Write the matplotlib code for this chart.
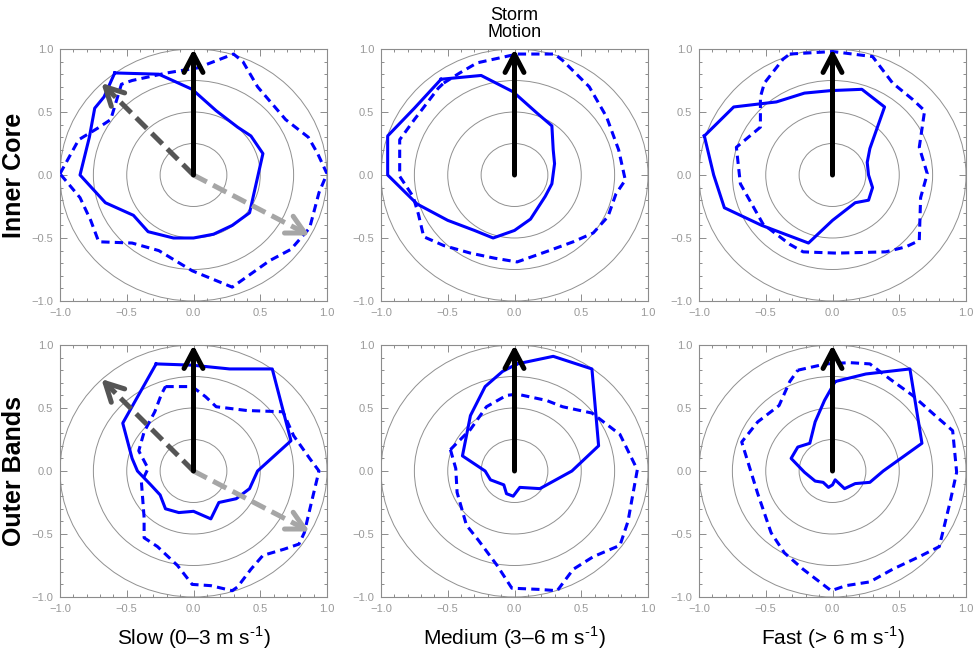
import matplotlib

matplotlib.use("Agg")
import matplotlib.pyplot as plt

plt.rcParams["font.family"] = ["Liberation Sans", "DejaVu Sans"]
plt.rcParams["mathtext.fontset"] = "custom"
plt.rcParams["mathtext.rm"] = "Liberation Sans"

# polygon outlines, normalised to storm-motion frame (x east, y along motion)
# inner core
SLOW_CORE_SOLID_X = [-0.59, -0.26, -0.01, 0.17, 0.33, 0.43, 0.52, 0.42, 0.29, 0.15, 0.0,
                     -0.15, -0.34, -0.45, -0.66, -0.85, -0.78, -0.74, -0.67, -0.59]
SLOW_CORE_SOLID_Y = [0.81, 0.80, 0.68, 0.51, 0.38, 0.31, 0.17, -0.30, -0.40, -0.47, -0.50,
                     -0.50, -0.45, -0.32, -0.22, 0.0, 0.30, 0.53, 0.62, 0.81]
SLOW_CORE_DASH_X = [-1.0, -0.86, -0.72, -0.62, -0.54, -0.46, -0.20, 0.03, 0.30, 0.37, 0.48,
                    0.69, 0.86, 0.93, 1.0, 0.94, 0.87, 0.73, 0.57, 0.29, -0.01, -0.26,
                    -0.46, -0.71, -0.77, -0.85, -1.0]
SLOW_CORE_DASH_Y = [0.01, 0.28, 0.37, 0.44, 0.72, 0.75, 0.81, 0.85, 0.96, 0.90, 0.70,
                    0.44, 0.30, 0.17, 0.01, -0.14, -0.42, -0.59, -0.68, -0.89, -0.76, -0.60,
                    -0.54, -0.53, -0.36, -0.18, 0.01]

MED_CORE_SOLID_X = [-0.55, -0.25, -0.01, 0.17, 0.28, 0.29, 0.30, 0.28, 0.23, 0.12, 0.0,
                    -0.16, -0.30, -0.50, -0.73, -0.95, -0.95, -0.75, -0.55]
MED_CORE_SOLID_Y = [0.76, 0.79, 0.66, 0.49, 0.39, 0.20, 0.09, -0.07, -0.17, -0.35, -0.44,
                    -0.50, -0.44, -0.36, -0.23, 0.0, 0.31, 0.53, 0.76]
MED_CORE_DASH_X = [-0.53, -0.41, -0.28, 0.02, 0.30, 0.36, 0.56, 0.69, 0.78, 0.83, 0.76,
                   0.70, 0.59, 0.44, 0.26, 0.02, -0.15, -0.33, -0.53, -0.68, -0.72, -0.76,
                   -0.86, -0.86, -0.75, -0.57, -0.53]
MED_CORE_DASH_Y = [0.73, 0.81, 0.89, 0.96, 0.96, 0.91, 0.70, 0.46, 0.20, -0.04, -0.15,
                   -0.33, -0.46, -0.53, -0.60, -0.69, -0.66, -0.62, -0.56, -0.49, -0.31, -0.17,
                   -0.01, 0.28, 0.44, 0.69, 0.73]

FAST_CORE_SOLID_X = [-0.96, -0.74, -0.42, -0.21, -0.01, 0.22, 0.39, 0.28, 0.26, 0.27, 0.30,
                     0.27, 0.17, 0.0, -0.18, -0.53, -0.81, -0.89, -0.96]
FAST_CORE_SOLID_Y = [0.31, 0.54, 0.58, 0.65, 0.67, 0.68, 0.54, 0.21, 0.10, 0.0, -0.10,
                     -0.20, -0.22, -0.36, -0.54, -0.40, -0.26, 0.0, 0.31]
FAST_CORE_DASH_X = [-0.32, 0.0, 0.30, 0.45, 0.60, 0.69, 0.65, 0.71, 0.66, 0.65, 0.55,
                    0.40, 0.03, -0.22, -0.32, -0.52, -0.69, -0.72, -0.54, -0.54, -0.51,
                    -0.37, -0.32]
FAST_CORE_DASH_Y = [0.96, 0.98, 0.94, 0.73, 0.60, 0.51, 0.22, 0.01, -0.18, -0.52, -0.57,
                    -0.61, -0.62, -0.61, -0.55, -0.39, -0.07, 0.22, 0.38, 0.62, 0.73,
                    0.92, 0.96]

# outer bands
SLOW_BAND_SOLID_X = [-0.28, -0.01, 0.27, 0.59, 0.73, 0.48, 0.42, 0.32, 0.19, 0.13, 0.0,
                     -0.11, -0.21, -0.25, -0.32, -0.42, -0.46, -0.53, -0.28]
SLOW_BAND_SOLID_Y = [0.85, 0.84, 0.81, 0.81, 0.24, 0.0, -0.14, -0.22, -0.25, -0.38, -0.32,
                     -0.33, -0.30, -0.19, -0.11, 0.0, 0.10, 0.38, 0.85]
SLOW_BAND_DASH_X = [-0.21, -0.01, 0.09, 0.17, 0.40, 0.67, 0.75, 0.87, 0.94, 0.89, 0.83,
                    0.79, 0.68, 0.52, 0.43, 0.33, 0.29, 0.13, -0.01, -0.12, -0.27, -0.37,
                    -0.37, -0.39, -0.34, -0.41, -0.37, -0.29, -0.24, -0.21]
SLOW_BAND_DASH_Y = [0.67, 0.67, 0.59, 0.51, 0.48, 0.47, 0.28, 0.10, 0.0, -0.22, -0.49,
                    -0.58, -0.62, -0.67, -0.78, -0.92, -0.95, -0.91, -0.90, -0.75, -0.60, -0.53,
                    -0.37, -0.09, 0.02, 0.16, 0.31, 0.47, 0.61, 0.67]

MED_BAND_SOLID_X = [0.02, 0.29, 0.58, 0.63, 0.43, 0.19, 0.04, -0.01, -0.06, -0.08, -0.18,
                    -0.22, -0.39, -0.33, -0.22, -0.09, 0.02]
MED_BAND_SOLID_Y = [0.85, 0.91, 0.81, 0.20, 0.0, -0.14, -0.13, -0.20, -0.18, -0.11, -0.07,
                    0.0, 0.12, 0.44, 0.67, 0.79, 0.85]
MED_BAND_DASH_X = [-0.48, -0.33, -0.21, -0.06, 0.02, 0.24, 0.36, 0.58, 0.79, 0.92, 0.85,
                   0.79, 0.59, 0.44, 0.32, 0.19, -0.02, -0.13, -0.27, -0.36, -0.43, -0.44,
                   -0.48]
MED_BAND_DASH_Y = [0.17, 0.33, 0.51, 0.60, 0.61, 0.56, 0.51, 0.46, 0.29, 0.01, -0.40,
                   -0.59, -0.68, -0.78, -0.95, -0.94, -0.93, -0.75, -0.55, -0.43, -0.17, 0.02,
                   0.17]

FAST_BAND_SOLID_X = [0.02, 0.25, 0.58, 0.67, 0.38, 0.28, 0.17, 0.09, 0.02, 0.0, -0.03,
                     -0.07, -0.13, -0.21, -0.31, -0.26, -0.17, -0.13, -0.06, 0.02]
FAST_BAND_SOLID_Y = [0.71, 0.77, 0.81, 0.22, 0.0, -0.09, -0.10, -0.14, -0.07, -0.11, -0.13,
                     -0.09, -0.08, -0.01, 0.10, 0.19, 0.22, 0.39, 0.56, 0.71]
FAST_BAND_DASH_X = [-0.26, -0.05, 0.13, 0.28, 0.43, 0.60, 0.78, 0.90, 0.93, 0.88, 0.80,
                    0.65, 0.45, 0.28, 0.10, -0.01, -0.22, -0.36, -0.46, -0.56, -0.68,
                    -0.56, -0.40, -0.32, -0.26]
FAST_BAND_DASH_Y = [0.80, 0.85, 0.86, 0.85, 0.73, 0.60, 0.43, 0.32, -0.01, -0.25, -0.60,
                    -0.68, -0.78, -0.88, -0.91, -0.95, -0.78, -0.65, -0.49, -0.18, 0.23,
                    0.39, 0.52, 0.71, 0.80]

# arrow tips (storm motion is always straight up)
MOTION_TIP = (0.0, 1.0)
SHEAR_LEFT_TIP = (-0.69, 0.73)
SHEAR_RIGHT_TIP = (0.87, -0.48)

RING_RADII = [0.25, 0.5, 0.75, 1.0]
ROW_LABELS = ["Inner Core", "Outer Bands"]
COL_LABELS = [r"Slow (0–3 m s$^{\mathregular{\text{-}1}}$)",
              r"Medium (3–6 m s$^{\mathregular{\text{-}1}}$)",
              r"Fast (> 6 m s$^{\mathregular{\text{-}1}}$)"]

PANELS = [
    [(SLOW_CORE_SOLID_X, SLOW_CORE_SOLID_Y, SLOW_CORE_DASH_X, SLOW_CORE_DASH_Y),
     (MED_CORE_SOLID_X, MED_CORE_SOLID_Y, MED_CORE_DASH_X, MED_CORE_DASH_Y),
     (FAST_CORE_SOLID_X, FAST_CORE_SOLID_Y, FAST_CORE_DASH_X, FAST_CORE_DASH_Y)],
    [(SLOW_BAND_SOLID_X, SLOW_BAND_SOLID_Y, SLOW_BAND_DASH_X, SLOW_BAND_DASH_Y),
     (MED_BAND_SOLID_X, MED_BAND_SOLID_Y, MED_BAND_DASH_X, MED_BAND_DASH_Y),
     (FAST_BAND_SOLID_X, FAST_BAND_SOLID_Y, FAST_BAND_DASH_X, FAST_BAND_DASH_Y)],
]

FIG_W, FIG_H = 974, 655
COL_LEFT_PX = [60, 381, 699]
ROW_TOP_PX = [49, 345]
PANEL_W_PX, PANEL_H_PX = 267, 252
AXIS_GRAY = "#8c8c8c"


def _arrow(ax, tip, color, dashed):
    tx, ty = tip
    if dashed:
        ax.plot([0, tx * 0.93], [0, ty * 0.93], color=color, lw=3.6,
                dashes=(3.0, 1.4), solid_capstyle="butt", zorder=5)
        start = (tx * 0.9, ty * 0.9)
    else:
        start = (0.0, 0.0)
    ax.annotate("", xy=tip, xytext=start, zorder=6,
                arrowprops=dict(arrowstyle="->,head_length=0.65,head_width=0.34",
                                color=color, lw=3.6, mutation_scale=20,
                                shrinkA=0, shrinkB=0))


def _panel(ax, curves, with_shear):
    sx, sy, dx, dy = curves
    for r in RING_RADII:
        ax.add_patch(plt.Circle((0, 0), r, fill=False, color="#909090", lw=0.7))
    ax.plot(sx, sy, color="#0000ff", lw=2.2, zorder=3)
    ax.plot(dx, dy, color="#0000ff", lw=2.2, dashes=(2.7, 1.7), zorder=3)
    if with_shear:
        _arrow(ax, SHEAR_LEFT_TIP, "#555555", True)
        _arrow(ax, SHEAR_RIGHT_TIP, "#a6a6a6", True)
    _arrow(ax, MOTION_TIP, "black", False)

    ax.set_xlim(-1, 1)
    ax.set_ylim(-1, 1)
    ticks = [-1.0, -0.5, 0.0, 0.5, 1.0]
    ax.set_xticks(ticks)
    ax.set_yticks(ticks)
    ax.set_xticks([i / 10 for i in range(-10, 11)], minor=True)
    ax.set_yticks([i / 10 for i in range(-10, 11)], minor=True)
    ax.tick_params(which="both", direction="in", top=True, right=True,
                   color=AXIS_GRAY, labelcolor="#999999", labelsize=8, width=0.7)
    ax.tick_params(which="major", length=5, pad=5)
    ax.tick_params(which="minor", length=2.5)
    for sp in ax.spines.values():
        sp.set_color(AXIS_GRAY)
        sp.set_linewidth(0.8)


fig = plt.figure(figsize=(FIG_W / 100, FIG_H / 100), dpi=100)

for row, row_curves in enumerate(PANELS):
    for col, curves in enumerate(row_curves):
        rect = [COL_LEFT_PX[col] / FIG_W,
                1 - (ROW_TOP_PX[row] + PANEL_H_PX) / FIG_H,
                PANEL_W_PX / FIG_W,
                PANEL_H_PX / FIG_H]
        ax = fig.add_axes(rect)
        _panel(ax, curves, with_shear=(col == 0))

for row, label in enumerate(ROW_LABELS):
    yc = 1 - (ROW_TOP_PX[row] + PANEL_H_PX / 2) / FIG_H
    fig.text(14 / FIG_W, yc, label, rotation=90, ha="center", va="center",
             fontsize=18, fontweight="bold")

for col, label in enumerate(COL_LABELS):
    xc = (COL_LEFT_PX[col] + PANEL_W_PX / 2) / FIG_W
    fig.text(xc, 1 - 638 / FIG_H, label, ha="center", va="center", fontsize=15)

fig.text((COL_LEFT_PX[1] + PANEL_W_PX / 2) / FIG_W, 1 - 24 / FIG_H, "Storm\nMotion",
         ha="center", va="center", fontsize=13, linespacing=1.05)

fig.savefig("out.png", dpi=100)
